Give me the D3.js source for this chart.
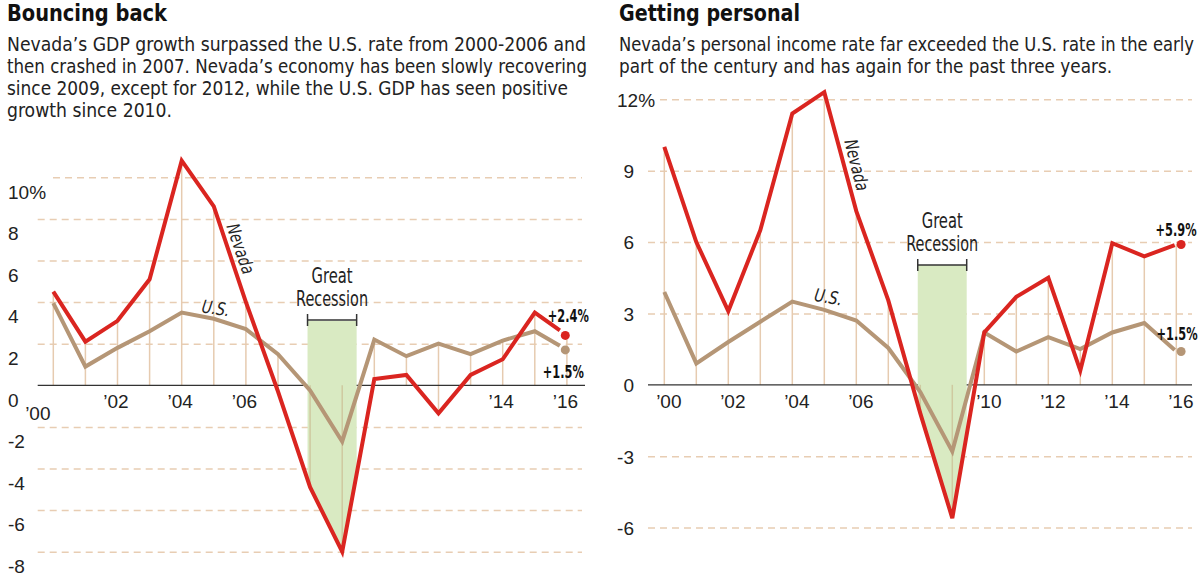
<!DOCTYPE html>
<html><head><meta charset="utf-8">
<script src="https://cdn.jsdelivr.net/npm/d3@7/dist/d3.min.js"></script>
<style>
html,body{margin:0;padding:0;background:#fff;}
svg{display:block;}
.narrow{font-family:"Liberation Sans Narrow","Arial Narrow","DejaVu Sans Condensed","Liberation Sans",sans-serif;}
.num{font-family:"Liberation Sans",Arial,sans-serif;}
</style></head><body>
<svg id="chart" width="1201" height="576" viewBox="0 0 1201 576"></svg>
<script>
// ---------- DATA ----------
const years = [2000,2001,2002,2003,2004,2005,2006,2007,2008,2009,2010,2011,2012,2013,2014,2015,2016];
const gdpNevada = [4.5, 2.1, 3.1, 5.1, 10.8, 8.6, 4.0, -0.3, -4.9, -8.0, 0.3, 0.5, -1.35, 0.5, 1.25, 3.5, 2.4];
const gdpUS     = [3.95, 0.9, 1.8, 2.6, 3.5, 3.2, 2.7, 1.5, -0.25, -2.7, 2.2, 1.4, 2.0, 1.5, 2.15, 2.6, 1.7];
const incomeNevada = [10.0, 6.0, 3.1, 6.5, 11.4, 12.3, 7.3, 3.55, -1.2, -5.6, 2.2, 3.7, 4.5, 0.6, 5.95, 5.4, 5.9];
const incomeUS     = [3.9, 0.9, 1.8, 2.65, 3.5, 3.15, 2.7, 1.55, -0.3, -2.8, 2.2, 1.4, 2.0, 1.5, 2.2, 2.6, 1.4];
const gdpTicks = [10, 8, 6, 4, 2, 0, -2, -4, -6, -8];
const incomeTicks = [12, 9, 6, 3, 0, -3, -6];
const gdpYearTicks = [2000, 2002, 2004, 2006, 2014, 2016];
const gdpYearLabels = ["\u201900","\u201902","\u201904","\u201906","\u201914","\u201916"];
const incomeYearTicks = [2000, 2002, 2004, 2006, 2010, 2012, 2014, 2016];
const incomeYearLabels = ["\u201900","\u201902","\u201904","\u201906","\u201910","\u201912","\u201914","\u201916"];
const gdpEndLabels = ["+2.4%", "+1.5%"];
const incomeEndLabels = ["+5.9%", "+1.5%"];
const recessionSpan = [2007.92, 2009.45];
const recessionLabel = ["Great", "Recession"];
const seriesNames = ["Nevada", "U.S."];
const titles = ["Bouncing back", "Getting personal"];
const gdpSubtitle = [
  "Nevada\u2019s GDP growth surpassed the U.S. rate from 2000-2006 and",
  "then crashed in 2007. Nevada\u2019s economy has been slowly recovering",
  "since 2009, except for 2012, while the U.S. GDP has seen positive",
  "growth since 2010."
];
const incomeSubtitle = [
  "Nevada\u2019s personal income rate far exceeded the U.S. rate in the early",
  "part of the century and has again for the past three years."
];

// ---------- STYLE / LAYOUT ----------
const RED = "#da2520", TAN = "#b59676", GRID = "#e8cdb3", VLINE = "#e6cbb0", GREEN = "#d9eac2", DARK = "#222";
const svg = d3.select("#chart");

const panels = [
  { title: titles[0], subtitle: gdpSubtitle, textX: 7, titleW: 160, subW: [579, 580, 561, 165],
    nev: gdpNevada, us: gdpUS, ticks: gdpTicks, yearTicks: gdpYearTicks, yearLabels: gdpYearLabels,
    endLabels: gdpEndLabels,
    xRange: [53.3, 566.9], yDomain: [-8, 10], yRange: [551.7, 177.3],
    gridStart: 37.7, topGridStart: 53, gridEnd: 582, baseStart: 37.7, baseEnd: 585,
    labelX: 8, labelOffset: 14, topAnchorStartX: 8, allStart: true,
    yearDx: -2, firstYearShift: [-14, 12],
    lineEnd: 2015.78, dotYear: 2015.95,
    nevLabel: {t: 2005.84, v: 6.57, rot: 71}, usLabel: {t: 2005.06, v: 3.72, rot: 9},
    bracketY: 320, bandTop: 321,
    endOff: [[23.5, -20], [18.5, 22]] },
  { title: titles[1], subtitle: incomeSubtitle, textX: 619, titleW: 181, subW: [575, 493],
    nev: incomeNevada, us: incomeUS, ticks: incomeTicks, yearTicks: incomeYearTicks, yearLabels: incomeYearLabels,
    endLabels: incomeEndLabels,
    xRange: [664.3, 1176.3], yDomain: [-6, 12], yRange: [527.6, 99.3],
    gridStart: 648, topGridStart: 660, gridEnd: 1192, baseStart: 648, baseEnd: 1192,
    labelX: 634, labelOffset: 0, topAnchorStartX: 617, allStart: false,
    yearDx: 4, firstYearShift: [0, 0],
    lineEnd: 2015.95, dotYear: 2016.15,
    nevLabel: {t: 2006.02, v: 9.24, rot: 76}, usLabel: {t: 2005.13, v: 3.70, rot: 10},
    bracketY: 265, bandTop: 265,
    endOff: [[15.5, -15], [16.5, -18]] }
];

function interp(series, t) {
  let i = Math.floor(t - years[0]);
  i = Math.max(0, Math.min(years.length - 2, i));
  const f = t - years[i];
  return series[i] + (series[i + 1] - series[i]) * f;
}

function drawPanel(cfg) {
  const g = svg.append("g");
  const x = d3.scaleLinear().domain([years[0], years[years.length - 1]]).range(cfg.xRange);
  const y = d3.scaleLinear().domain(cfg.yDomain).range(cfg.yRange);

  // Title + subtitle (anchored at their right end so nothing spills past the page edge)
  g.append("text").attr("class", "narrow").attr("x", cfg.textX).attr("y", 21)
    .attr("font-size", 23).attr("font-weight", "bold").attr("fill", "#111")
    .attr("textLength", cfg.titleW).attr("lengthAdjust", "spacingAndGlyphs").text(cfg.title);
  cfg.subtitle.forEach((line, i) => {
    g.append("text").attr("class", "narrow")
      .attr("x", cfg.textX + cfg.subW[i]).attr("text-anchor", "end").attr("y", 51 + 22 * i)
      .attr("font-size", 19.5).attr("fill", DARK)
      .attr("textLength", cfg.subW[i]).attr("lengthAdjust", "spacingAndGlyphs").text(line);
  });

  // Y axis: dashed gridlines + labels
  const yAxis = d3.axisLeft(y).tickValues(cfg.ticks)
    .tickSize(-(cfg.gridEnd - cfg.gridStart))
    .tickFormat(d => d === cfg.ticks[0] ? d + "%" : String(d));
  const ya = g.append("g").attr("transform", `translate(${cfg.gridStart},0)`).call(yAxis);
  ya.select(".domain").remove();
  ya.attr("font-family", null).attr("font-size", 19).attr("class", "num").attr("color", DARK);
  ya.selectAll(".tick line")
    .attr("stroke", GRID).attr("stroke-width", 1.5).attr("stroke-dasharray", "7,5")
    .attr("stroke-opacity", d => d === 0 ? 0 : 1)
    .attr("x1", d => d === cfg.ticks[0] ? cfg.topGridStart - cfg.gridStart : 0);
  ya.selectAll(".tick text")
    .attr("fill", DARK)
    .attr("text-anchor", d => (cfg.allStart || d === cfg.ticks[0]) ? "start" : "end")
    .attr("x", d => ((cfg.allStart || d === cfg.ticks[0]) ? cfg.topAnchorStartX : cfg.labelX) - cfg.gridStart)
    .attr("y", cfg.labelOffset).attr("dy", "0.36em");

  // Vertical year lines
  g.append("g").selectAll("line").data(years).join("line")
    .attr("x1", d => x(d)).attr("x2", d => x(d))
    .attr("y1", (d, i) => y(Math.max(0, cfg.nev[i], cfg.us[i])))
    .attr("y2", (d, i) => y(Math.min(0, cfg.nev[i], cfg.us[i])))
    .attr("stroke", VLINE).attr("stroke-width", 1.5);

  // Baseline
  g.append("line").attr("x1", cfg.baseStart).attr("x2", cfg.baseEnd)
    .attr("y1", y(0)).attr("y2", y(0)).attr("stroke", "#333").attr("stroke-width", 1.3);

  // Recession band (above Nevada line)
  const inBand = years.filter(yr => yr > recessionSpan[0] && yr < recessionSpan[1]);
  const bandPts = [recessionSpan[0]].concat(inBand).concat([recessionSpan[1]])
    .map(t => ({ t, v: interp(cfg.nev, t) }));
  const area = d3.area().x(d => x(d.t)).y0(cfg.bandTop).y1(d => y(d.v));
  g.append("path").datum(bandPts).attr("d", area).attr("fill", GREEN);

  // Vertical lines visible inside band
  g.append("g").selectAll("line").data(inBand).join("line")
    .attr("x1", d => x(d)).attr("x2", d => x(d))
    .attr("y1", d => y(Math.max(0, cfg.nev[years.indexOf(d)], cfg.us[years.indexOf(d)])))
    .attr("y2", d => y(Math.min(0, cfg.nev[years.indexOf(d)], cfg.us[years.indexOf(d)])))
    .attr("stroke", "#cfc9a0").attr("stroke-width", 1.5);

  // Bracket + label
  const bx0 = x(recessionSpan[0]), bx1 = x(recessionSpan[1]), bxc = (bx0 + bx1) / 2;
  const br = g.append("g").attr("stroke", "#333").attr("stroke-width", 1.5);
  br.append("line").attr("x1", bx0).attr("x2", bx1).attr("y1", cfg.bracketY).attr("y2", cfg.bracketY);
  br.append("line").attr("x1", bx0).attr("x2", bx0).attr("y1", cfg.bracketY - 6).attr("y2", cfg.bracketY + 6);
  br.append("line").attr("x1", bx1).attr("x2", bx1).attr("y1", cfg.bracketY - 6).attr("y2", cfg.bracketY + 6);
  const recW = [41, 72];
  recessionLabel.forEach((s, i) => {
    g.append("text").attr("class", "narrow").attr("x", bxc).attr("y", cfg.bracketY - 45 + 23 * i)
      .attr("dy", "0.36em").attr("text-anchor", "middle").attr("font-size", 21).attr("fill", DARK)
      .attr("textLength", recW[i]).attr("lengthAdjust", "spacingAndGlyphs").text(s);
  });

  // X axis labels
  const xa = g.append("g").attr("transform", `translate(0,${y(0)})`)
    .call(d3.axisBottom(x).tickValues(cfg.yearTicks).tickFormat((d, i) => cfg.yearLabels[i]).tickSize(0));
  xa.select(".domain").remove();
  xa.attr("font-family", null).attr("font-size", 19).attr("class", "num");
  xa.selectAll(".tick text").attr("fill", DARK)
    .attr("dx", (d, i) => cfg.yearDx + (i === 0 ? cfg.firstYearShift[0] : 0))
    .attr("y", (d, i) => 16 + (i === 0 ? cfg.firstYearShift[1] : 0)).attr("dy", "0.36em");

  // Lines
  const line = d3.line().x(d => x(d.t)).y(d => y(d.v));
  function pts(series) {
    const p = years.filter(yr => yr <= cfg.lineEnd).map(yr => ({ t: yr, v: series[years.indexOf(yr)] }));
    p.push({ t: cfg.lineEnd, v: interp(series, cfg.lineEnd) });
    return p;
  }
  g.append("path").datum(pts(cfg.us)).attr("d", line).attr("fill", "none")
    .attr("stroke", TAN).attr("stroke-width", 4).attr("stroke-linejoin", "miter");
  g.append("path").datum(pts(cfg.nev)).attr("d", line).attr("fill", "none")
    .attr("stroke", RED).attr("stroke-width", 4).attr("stroke-linejoin", "miter");

  // End dots + labels (right-anchored so they stay inside the page)
  const last = years.length - 1;
  [[cfg.nev[last], RED], [cfg.us[last], TAN]].forEach(([v, c], i) => {
    const cx = x(cfg.dotYear), cy = y(v);
    g.append("circle").attr("cx", cx).attr("cy", cy).attr("r", 4.5).attr("fill", c);
    g.append("text").attr("class", "narrow").attr("x", cx + cfg.endOff[i][0]).attr("y", cy + cfg.endOff[i][1])
      .attr("dy", "0.36em").attr("text-anchor", "end").attr("font-size", 18).attr("font-weight", "bold")
      .attr("fill", "#111").attr("textLength", 41).attr("lengthAdjust", "spacingAndGlyphs").text(cfg.endLabels[i]);
  });

  // Series name labels
  const nl = cfg.nevLabel, ul = cfg.usLabel;
  g.append("text").attr("class", "narrow").attr("font-size", 18).attr("font-style", "italic").attr("fill", DARK)
    .attr("text-anchor", "middle").attr("dy", "0.36em")
    .attr("textLength", 52).attr("lengthAdjust", "spacingAndGlyphs")
    .attr("transform", `translate(${x(nl.t)},${y(nl.v)}) rotate(${nl.rot})`).text(seriesNames[0]);
  g.append("text").attr("class", "narrow").attr("font-size", 18).attr("font-style", "italic").attr("fill", DARK)
    .attr("text-anchor", "middle").attr("dy", "0.36em")
    .attr("textLength", 28).attr("lengthAdjust", "spacingAndGlyphs")
    .attr("transform", `translate(${x(ul.t)},${y(ul.v)}) rotate(${ul.rot})`).text(seriesNames[1]);
}

panels.forEach(drawPanel);
</script>
</body></html>
